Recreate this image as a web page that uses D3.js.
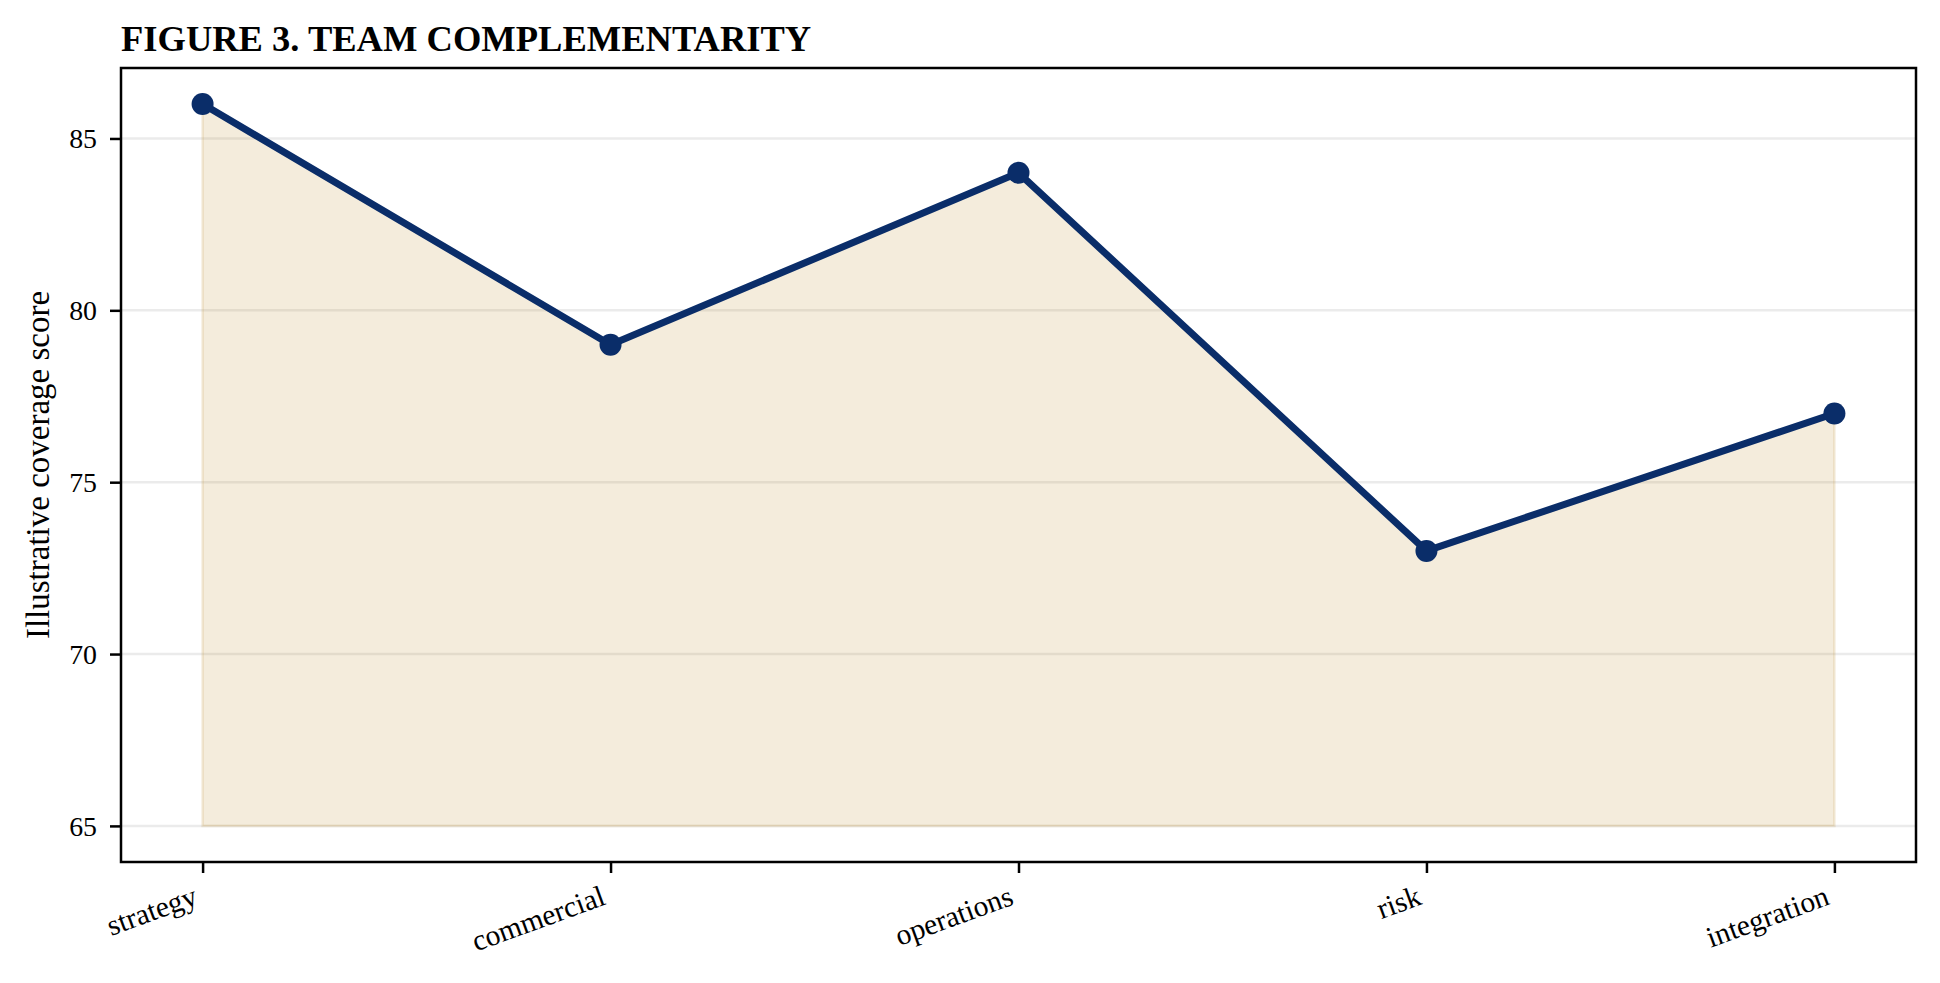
<!DOCTYPE html>
<html>
<head>
<meta charset="utf-8">
<script src="https://cdn.jsdelivr.net/npm/d3@7"></script>
<style>
  body { margin: 0; background: #fff; }
  svg { display: block; }
  text { font-family: "Liberation Serif", "Times New Roman", serif; fill: #000; }
</style>
</head>
<body>
<div id="chart"></div>
<script>
// chart data
var categories = ["strategy", "commercial", "operations", "risk", "integration"];
var scores = [86, 79, 84, 73, 77];
var baseline = 65;
var yTicks = [65, 70, 75, 80, 85];
var titleText = "FIGURE 3. TEAM COMPLEMENTARITY";
var yLabelText = "Illustrative coverage score";

var width = 1940,
    height = 983,
    margin = { top: 68, right: 24, bottom: 121, left: 121 };

var plotW = width - margin.left - margin.right,
    plotH = height - margin.top - margin.bottom;

var lineColor = "#0a2d69",
    fillColor = "#c2953d";

// scales - matplotlib style 5% margins
var yMin = baseline, yMax = d3.max(scores);
var yPad = (yMax - yMin) * 0.05;
var x = d3.scalePoint().domain(categories).range([0, plotW]).padding(0.2);
var y = d3.scaleLinear().domain([yMin - yPad, yMax + yPad]).range([plotH, 0]);

var svg = d3.select("#chart").append("svg")
    .attr("width", width)
    .attr("height", height);

var g = svg.append("g")
    .attr("transform", "translate(" + margin.left + "," + margin.top + ")");

// grid
g.append("g").selectAll("line")
    .data(yTicks)
    .enter().append("line")
    .attr("x1", 0).attr("x2", plotW)
    .attr("y1", function(d) { return y(d); })
    .attr("y2", function(d) { return y(d); })
    .attr("stroke", "#000")
    .attr("stroke-opacity", 0.08)
    .attr("stroke-width", 2.5);

var points = categories.map(function(c, i) { return { cat: c, val: scores[i] }; });

// shaded area down to baseline
var area = d3.area()
    .x(function(d) { return x(d.cat); })
    .y0(y(baseline))
    .y1(function(d) { return y(d.val); });

g.append("path")
    .datum(points)
    .attr("d", area)
    .attr("fill", fillColor)
    .attr("fill-opacity", 0.18)
    .attr("stroke", fillColor)
    .attr("stroke-opacity", 0.18)
    .attr("stroke-width", 2.5);

var line = d3.line()
    .x(function(d) { return x(d.cat); })
    .y(function(d) { return y(d.val); });

g.append("path")
    .datum(points)
    .attr("d", line)
    .attr("fill", "none")
    .attr("stroke", lineColor)
    .attr("stroke-width", 7)
    .attr("stroke-linejoin", "round");

g.selectAll("circle.pt")
    .data(points)
    .enter().append("circle")
    .attr("class", "pt")
    .attr("cx", function(d) { return x(d.cat); })
    .attr("cy", function(d) { return y(d.val); })
    .attr("r", 11)
    .attr("fill", lineColor);

// axes
var yAxis = g.append("g")
    .call(d3.axisLeft(y).tickValues(yTicks).tickSize(11).tickPadding(13).tickFormat(d3.format("d")));
yAxis.select(".domain").remove();
yAxis.selectAll(".tick line").attr("stroke", "#000").attr("stroke-width", 2.5);
yAxis.selectAll(".tick text")
    .attr("dy", "0.34em")
    .style("font-size", "27.8px")
    .style("font-family", "Liberation Serif, serif");

var xAxis = g.append("g")
    .attr("transform", "translate(0," + plotH + ")")
    .call(d3.axisBottom(x).tickSize(11).tickPadding(0));
xAxis.select(".domain").remove();
xAxis.selectAll(".tick line").attr("stroke", "#000").attr("stroke-width", 2.5);
xAxis.selectAll(".tick text")
    .attr("text-anchor", "end")
    .attr("dy", null)
    .attr("y", null)
    .attr("transform", "translate(-4,42) rotate(-20)")
    .style("font-size", "29.5px")
    .style("font-family", "Liberation Serif, serif");

// frame
g.append("rect")
    .attr("width", plotW)
    .attr("height", plotH)
    .attr("fill", "none")
    .attr("stroke", "#000")
    .attr("stroke-width", 2.5);

// title and y label
svg.append("text")
    .attr("x", margin.left)
    .attr("y", 51)
    .style("font-size", "36.5px")
    .style("font-weight", "bold")
    .text(titleText);

svg.append("text")
    .attr("transform", "translate(49," + (margin.top + plotH / 2) + ") rotate(-90)")
    .attr("text-anchor", "middle")
    .style("font-size", "33px")
    .text(yLabelText);
</script>
</body>
</html>
